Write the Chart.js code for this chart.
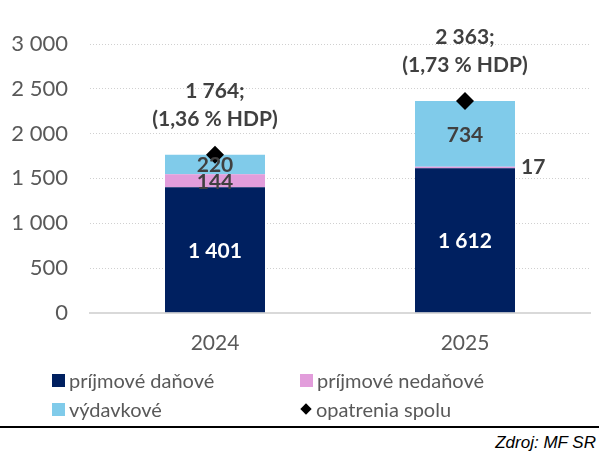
<!DOCTYPE html>
<html lang="sk">
<head>
<meta charset="utf-8">
<script src="https://cdn.jsdelivr.net/npm/chart.js@4/dist/chart.umd.min.js"></script>
<style>
  body { margin: 0; background: #fff; font-family: Lato, sans-serif; }
  #obal { position: relative; width: 599px; height: 453px; overflow: hidden; }
  #graf_box { position: absolute; left: 0; top: 0; width: 599px; height: 374px; }
  #legenda { position: absolute; left: 0; top: 366px; width: 599px; color: #595959; font-size: 20px; }
  .polozka { position: absolute; display: flex; align-items: center; white-space: nowrap; height: 28px; }
  .stvorec { width: 13px; height: 13px; margin-right: 4px; }
  .diamant { width: 8px; height: 8px; background: #000; transform: rotate(45deg); margin: 0 6px 0 2px; }
  #ciara { position: absolute; left: 0; top: 426px; width: 599px; height: 2px; background: #000; }
  #zdroj { position: absolute; right: 3px; top: 433px; font-family: "Liberation Sans", Arial, sans-serif; font-style: italic; font-size: 17px; color: #000; }
</style>
</head>
<body>
<div id="obal">
  <div id="graf_box"><canvas id="graf"></canvas></div>
  <div id="legenda"></div>
  <div id="ciara"></div>
  <div id="zdroj">Zdroj: MF SR</div>
</div>
<script>
// roky
const roky = ["2024", "2025"];
// opatrenia v mil. eur
const prijmove_danove = [1401, 1612];
const prijmove_nedanove = [144, 17];
const vydavkove = [220, 734];
const opatrenia_spolu = [1764, 2363];
const podiel_hdp = [1.36, 1.73];
const y_ticky = [0, 500, 1000, 1500, 2000, 2500, 3000];

const farba_danove = "#002060";
const farba_nedanove = "#e29ddb";
const farba_vydavkove = "#80cbea";

function formatuj(cislo) {
  return String(cislo).replace(/\B(?=(\d{3})+(?!\d))/g, " ");
}

// popisky hodnot priamo do grafu (bez datalabels pluginu)
const popisky = {
  id: "popisky",
  afterDatasetsDraw(chart) {
    const ctx = chart.ctx;
    ctx.save();
    ctx.font = "bold 21px Lato, sans-serif";
    ctx.textBaseline = "middle";
    chart.data.datasets.forEach((ds, i) => {
      const meta = chart.getDatasetMeta(i);
      if (ds.type === "line") {
        meta.data.forEach((bod, j) => {
          ctx.fillStyle = "#404040";
          ctx.textAlign = "center";
          ctx.fillText(formatuj(ds.data[j]) + ";", bod.x, bod.y - 64);
          ctx.fillText("(" + String(podiel_hdp[j]).replace(".", ",") + " % HDP)", bod.x, bod.y - 36);
        });
        return;
      }
      meta.data.forEach((bar, j) => {
        const vyska = Math.abs(bar.base - bar.y);
        ctx.fillStyle = ds.farba_textu;
        if (vyska < 5) {
          ctx.textAlign = "left";
          ctx.fillStyle = "#404040";
          ctx.fillText(formatuj(ds.data[j]), bar.x + bar.width / 2 + 6, (bar.y + bar.base) / 2);
        } else {
          ctx.textAlign = "center";
          ctx.fillText(formatuj(ds.data[j]), bar.x, (bar.y + bar.base) / 2 + 1);
        }
      });
    });
    ctx.restore();
  }
};

const graf = new Chart(document.getElementById("graf"), {
  data: {
    labels: roky,
    datasets: [
      { type: "bar", label: "príjmové daňové", data: prijmove_danove, backgroundColor: farba_danove, farba_textu: "#ffffff", stack: "s", order: 2 },
      { type: "bar", label: "príjmové nedaňové", data: prijmove_nedanove, backgroundColor: farba_nedanove, farba_textu: "#404040", stack: "s", order: 2 },
      { type: "bar", label: "výdavkové", data: vydavkove, backgroundColor: farba_vydavkove, farba_textu: "#404040", stack: "s", order: 2 },
      { type: "line", label: "opatrenia spolu", data: opatrenia_spolu, showLine: false, stack: "spolu", order: 1,
        pointStyle: "rectRot", pointRadius: 9, pointHoverRadius: 9, pointBackgroundColor: "#000", pointBorderColor: "#000", borderWidth: 0 }
    ]
  },
  options: {
    responsive: true,
    maintainAspectRatio: false,
    animation: false,
    layout: { padding: { left: 0, right: 6, top: 44, bottom: 0 } },
    datasets: { bar: { barPercentage: 0.4, categoryPercentage: 1 } },
    plugins: { legend: { display: false }, tooltip: { enabled: false } },
    scales: {
      x: {
        stacked: true,
        grid: { display: false, drawTicks: false },
        border: { display: true, color: "#d9d9d9", width: 2 },
        ticks: { color: "#595959", font: { family: "Lato, sans-serif", size: 21 }, padding: 18 }
      },
      y: {
        stacked: true,
        min: 0,
        max: 3000,
        afterBuildTicks: (os) => { os.ticks = y_ticky.map(v => ({ value: v })); },
        afterFit: (os) => { os.width = 90; },
        grid: {
          drawTicks: false,
          color: (c) => c.tick && c.tick.value === 0 ? "rgba(0,0,0,0)" : "#d0d0d0",
          tickBorderDash: [1, 2]
        },
        border: { display: false, dash: [1, 2] },
        ticks: { color: "#595959", font: { family: "Lato, sans-serif", size: 22 }, padding: 22, callback: (v) => formatuj(v) }
      }
    }
  },
  plugins: [popisky]
});

// legenda v dvoch stlpcoch
const legenda = document.getElementById("legenda");
const pozicie = [[52, 0], [300, 0], [52, 29], [300, 29]];
graf.data.datasets.forEach((ds, i) => {
  const el = document.createElement("div");
  el.className = "polozka";
  el.style.left = pozicie[i][0] + "px";
  el.style.top = pozicie[i][1] + "px";
  const znak = document.createElement("span");
  if (ds.type === "line") {
    znak.className = "diamant";
  } else {
    znak.className = "stvorec";
    znak.style.background = ds.backgroundColor;
  }
  el.appendChild(znak);
  el.appendChild(document.createTextNode(ds.label));
  legenda.appendChild(el);
});
</script>
</body>
</html>
